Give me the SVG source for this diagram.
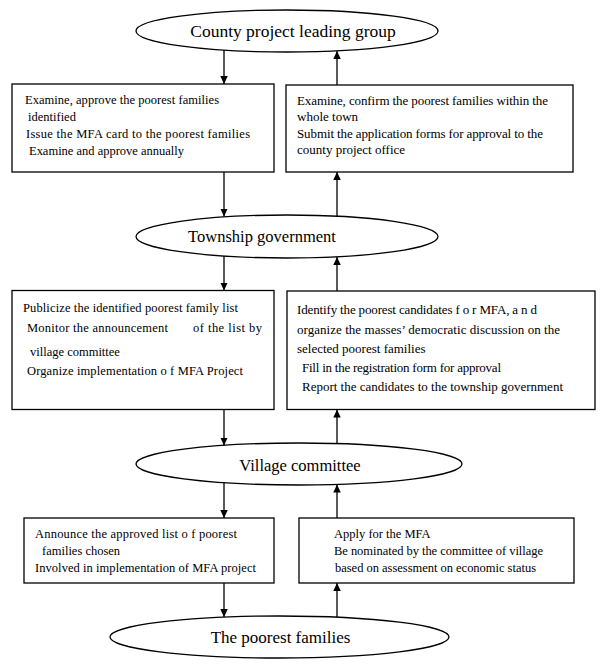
<svg xmlns="http://www.w3.org/2000/svg" width="600" height="670" viewBox="0 0 600 670" xml:space="preserve">
<defs>
<style>
.bg{fill:#fff}
.box{fill:#fff;stroke:#000;stroke-width:1.3}
.ell{fill:#fff;stroke:#000;stroke-width:1.3}
text{font-family:'Liberation Serif','Times New Roman',Times,'DejaVu Serif','Noto Serif',serif;fill:#000}
.t{font-size:12.5px}
.t13{font-size:13px}
.lab{text-anchor:middle}
.con{fill:none;stroke:#000;stroke-width:1.3;marker-end:url(#ah)}
</style>
<marker id="ah" markerUnits="userSpaceOnUse" markerWidth="8" markerHeight="8" refX="8" refY="3.75" orient="auto">
<path d="M0,0 L8,3.75 L0,7.5 z" fill="#000"/>
</marker>
</defs>
<rect class="bg" x="0" y="0" width="600" height="670"/>

<g font-family="Liberation Serif, Times New Roman, DejaVu Serif, serif">
<g id="county">
<ellipse class="ell" cx="287" cy="31" rx="151" ry="21"/>
<text class="lab" x="293" y="37" font-size="17.5">County project leading group</text>
</g>

<g id="box-county-down">
<rect class="box" x="12" y="84" width="262" height="88"/>
<text class="t" x="25" y="104" textLength="194" lengthAdjust="spacing">Examine, approve  the poorest families</text>
<text class="t" x="28" y="121">identified</text>
<text class="t" x="26" y="138" textLength="224" lengthAdjust="spacing">Issue   the MFA card to the  poorest families</text>
<text class="t" x="29" y="155" textLength="155" lengthAdjust="spacing">Examine and approve annually</text>
</g>

<g id="box-county-up">
<rect class="box" x="286" y="85" width="287" height="87"/>
<text class="t t13" x="297" y="104.5" textLength="251" lengthAdjust="spacing">Examine, confirm the poorest families within the</text>
<text class="t t13" x="297" y="121">whole town</text>
<text class="t t13" x="297" y="137.5" textLength="246" lengthAdjust="spacing">Submit the application forms for approval to the</text>
<text class="t t13" x="297" y="154">county project office</text>
</g>

<g id="township">
<ellipse class="ell" cx="287" cy="236.5" rx="151" ry="21.5"/>
<text class="lab" x="262" y="242" font-size="16.5">Township government</text>
</g>

<g id="box-township-down">
<rect class="box" x="12" y="290.5" width="262" height="119"/>
<text class="t" x="23" y="312" textLength="215" lengthAdjust="spacing">Publicize   the identified poorest family list</text>
<text class="t" x="27" y="332" textLength="141" lengthAdjust="spacing">Monitor  the  announcement</text>
<text class="t" x="193" y="332" textLength="69" lengthAdjust="spacing">of  the  list  by</text>
<text class="t" x="30" y="356">village committee</text>
<text class="t" x="27" y="375" textLength="216" lengthAdjust="spacing">Organize  implementation o f  MFA Project</text>
</g>

<g id="box-township-up">
<rect class="box" x="287" y="291" width="308" height="118.5"/>
<text class="t t13" x="297" y="314" textLength="240" lengthAdjust="spacing">Identify the poorest candidates f o r  MFA, a n d</text>
<text class="t t13" x="297" y="334" textLength="263" lengthAdjust="spacing">organize  the  masses’  democratic  discussion  on  the</text>
<text class="t t13" x="297" y="353">selected poorest families</text>
<text class="t t13" x="302" y="372" textLength="199" lengthAdjust="spacing">Fill in the registration form for approval</text>
<text class="t t13" x="302" y="391" textLength="261" lengthAdjust="spacing">Report the candidates to the township government</text>
</g>

<g id="village">
<ellipse class="ell" cx="299" cy="464" rx="163" ry="21"/>
<text class="lab" x="300" y="470.5" font-size="16.5">Village committee</text>
</g>

<g id="box-village-down">
<rect class="box" x="24" y="518" width="250" height="65"/>
<text class="t" x="35" y="538" textLength="202" lengthAdjust="spacing">Announce the approved  list o f   poorest</text>
<text class="t" x="42" y="555">families chosen</text>
<text class="t" x="35" y="572" textLength="221" lengthAdjust="spacing">Involved in implementation of MFA project</text>
</g>

<g id="box-village-up">
<rect class="box" x="299" y="518" width="275" height="65"/>
<text class="t" x="334" y="538">Apply for the MFA</text>
<text class="t" x="334" y="555" textLength="209" lengthAdjust="spacing">Be nominated by the committee of village</text>
<text class="t" x="335" y="572" textLength="201" lengthAdjust="spacing">based on assessment on economic status</text>
</g>

<g id="poorest">
<ellipse class="ell" cx="279.5" cy="637" rx="169.5" ry="21"/>
<text class="lab" x="280.5" y="643" font-size="17">The poorest families</text>
</g>
</g>

<g id="connectors">
<path class="con" d="M224,50 V84"/>
<path class="con" d="M337,85 V51"/>
<path class="con" d="M224,172 V216.5"/>
<path class="con" d="M337,216 V172"/>
<path class="con" d="M224,256 V290.5"/>
<path class="con" d="M337,291 V257"/>
<path class="con" d="M224,409.5 V445.5"/>
<path class="con" d="M337,443.5 V409.5"/>
<path class="con" d="M224,482.5 V518"/>
<path class="con" d="M337,518 V484.5"/>
<path class="con" d="M224,583 V617"/>
<path class="con" d="M337,617 V583"/>
</g>
</svg>
